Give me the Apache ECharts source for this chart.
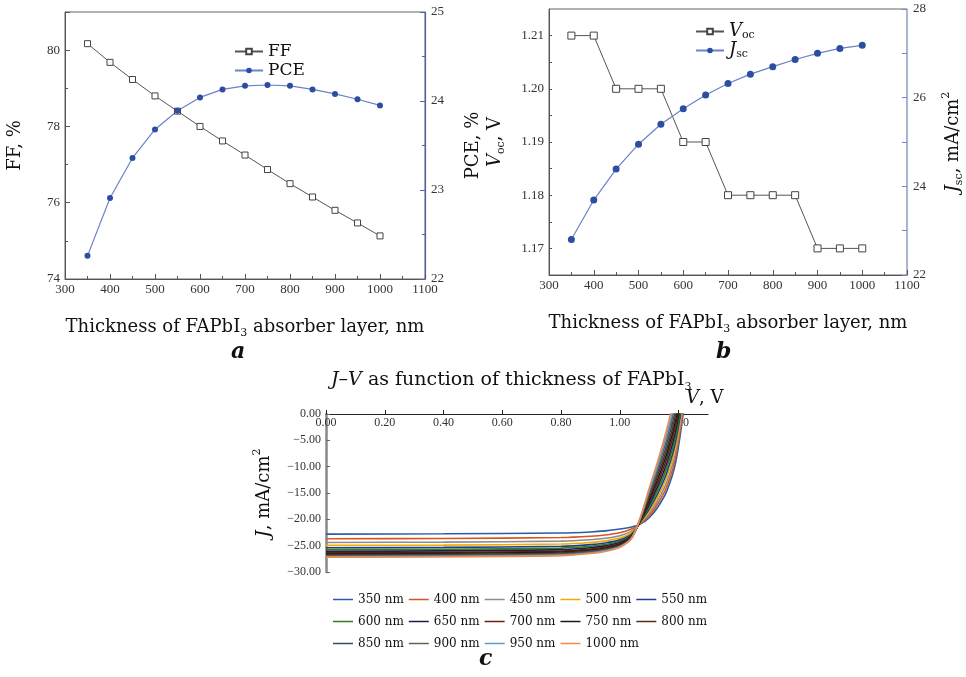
<!DOCTYPE html>
<html>
<head>
<meta charset="utf-8">
<script src="https://cdn.jsdelivr.net/npm/echarts@6/dist/echarts.min.js"></script>
<style>
  html, body { margin: 0; padding: 0; background: #fff; }
  #chart { width: 966px; height: 677px; }
</style>
</head>
<body>
<div id="chart"></div>
<script>
// thickness of the absorber layer, nm
const thickness = [350, 400, 450, 500, 550, 600, 650, 700, 750, 800, 850, 900, 950, 1000];
// panel a
const ffValues = [80.17, 79.68, 79.23, 78.80, 78.40, 78.00, 77.62, 77.25, 76.87, 76.50, 76.15, 75.80, 75.47, 75.13];
const pceValues = [22.26, 22.91, 23.36, 23.68, 23.89, 24.04, 24.13, 24.17, 24.18, 24.17, 24.13, 24.08, 24.02, 23.95];
// panel b
const vocValues = [1.21, 1.21, 1.20, 1.20, 1.20, 1.19, 1.19, 1.18, 1.18, 1.18, 1.18, 1.17, 1.17, 1.17];
const jscValues = [22.80, 23.69, 24.39, 24.95, 25.40, 25.75, 26.06, 26.32, 26.53, 26.70, 26.86, 27.00, 27.11, 27.18];
// panel c: J-V curves, one row per thickness
const jvVoltage = [0, 0.4, 0.8, 0.9, 0.95, 1.0, 1.04, 1.07, 1.10, 1.13, 1.16, 1.19, 1.22];
const jv350 = [-22.80, -22.75, -22.60, -22.40, -22.20, -21.85, -21.45, -20.90, -19.70, -17.60, -14.60, -9.20, 2.0];
const jv400 = [-23.69, -23.63, -23.46, -23.22, -22.98, -22.55, -21.85, -20.80, -19.30, -16.95, -13.75, -8.20, 2.7];
const jv450 = [-24.39, -24.33, -24.14, -23.87, -23.60, -23.10, -22.25, -20.70, -18.90, -16.30, -12.90, -7.20, 3.4];
const jv500 = [-24.95, -24.89, -24.69, -24.39, -24.09, -23.55, -22.55, -20.60, -18.50, -15.65, -12.00, -6.20, 4.1];
const jv550 = [-25.40, -25.33, -25.12, -24.80, -24.48, -23.90, -22.80, -20.50, -18.05, -15.00, -11.10, -5.20, 4.8];
const jv600 = [-25.75, -25.68, -25.46, -25.12, -24.78, -24.18, -23.00, -20.40, -17.60, -14.30, -10.20, -4.20, 5.5];
const jv650 = [-26.06, -25.99, -25.76, -25.40, -25.04, -24.40, -23.15, -20.30, -17.15, -13.60, -9.30, -3.20, 6.2];
const jv700 = [-26.32, -26.25, -26.00, -25.62, -25.25, -24.60, -23.25, -20.20, -16.70, -12.90, -8.40, -2.20, 6.8];
const jv750 = [-26.53, -26.46, -26.21, -25.83, -25.45, -24.78, -23.35, -20.10, -16.25, -12.20, -7.50, -1.20, 7.5];
const jv800 = [-26.70, -26.63, -26.38, -25.99, -25.60, -24.92, -23.42, -20.00, -15.80, -11.50, -6.60, -0.20, 8.2];
const jv850 = [-26.86, -26.79, -26.53, -26.13, -25.74, -25.05, -23.48, -19.90, -15.35, -10.80, -5.70, 0.80, 8.9];
const jv900 = [-27.00, -26.93, -26.66, -26.28, -25.88, -25.15, -23.52, -19.80, -14.90, -10.15, -4.70, 1.90, 9.6];
const jv950 = [-27.11, -27.04, -26.77, -26.38, -25.98, -25.22, -23.56, -19.70, -14.50, -9.50, -3.75, 2.95, 10.3];
const jv1000 = [-27.18, -27.10, -26.90, -26.50, -26.10, -25.30, -23.60, -19.60, -14.10, -8.80, -2.80, 4.00, 11.0];
const jvCurves = [jv350, jv400, jv450, jv500, jv550, jv600, jv650, jv700, jv750, jv800, jv850, jv900, jv950, jv1000];
const jvColors = ['#2a5ca8', '#d9541e', '#8c8c8c', '#f2a900', '#1f3d8c', '#2e7d1e', '#1a1f4a',
                  '#6b1f12', '#1a1a1a', '#5a2e12', '#3a4a66', '#5a6650', '#5b9bd5', '#ef8a4a'];

const SERIF = '"DejaVu Serif", serif';
const NUM = '"Liberation Serif", serif';

const rich = {
  i: { fontStyle: 'italic', fontSize: 18, fontFamily: SERIF, color: '#111' },
  sub: { fontSize: 11, lineHeight: 11, verticalAlign: 'bottom', fontFamily: SERIF, color: '#111' },
  sup: { fontSize: 11, lineHeight: 11, verticalAlign: 'top', fontFamily: SERIF, color: '#111' }
};
const titleRich = {
  i: { fontStyle: 'italic', fontSize: 19, fontFamily: SERIF, color: '#111' },
  sub: { fontSize: 11, lineHeight: 11, verticalAlign: 'bottom', fontFamily: SERIF, color: '#111' }
};
const nameStyle = { fontSize: 18, lineHeight: 24, color: '#111', fontFamily: SERIF, rich: rich };
const tickLabel = { fontFamily: NUM, fontSize: 13, color: '#333' };
const letterStyle = { fontSize: 22, fontStyle: 'italic', fontWeight: 'bold', color: '#111', fontFamily: SERIF };

function pairs(ys) {
  return thickness.map((t, k) => [t, ys[k]]);
}

// common thickness axis for panels a and b
function thicknessAxis(gridIndex) {
  return {
    type: 'value', gridIndex: gridIndex, min: 300, max: 1100, interval: 100,
    name: 'Thickness of FAPbI{sub|3} absorber layer, nm',
    nameLocation: 'middle', nameGap: 36, nameTextStyle: nameStyle,
    axisLine: { lineStyle: { color: '#555' } },
    axisTick: { inside: true, length: 5, lineStyle: { color: '#555' } },
    minorTick: { show: true, splitNumber: 2, length: 3, lineStyle: { color: '#555' } },
    axisLabel: Object.assign({ margin: 4, formatter: v => String(v) }, tickLabel),
    splitLine: { show: false }
  };
}

const jvSeries = jvCurves.map((curve, k) => ({
  name: thickness[k] + ' nm',
  type: 'line', xAxisIndex: 2, yAxisIndex: 4,
  data: jvVoltage.map((v, j) => [v, curve[j]]),
  showSymbol: false, symbol: 'none',
  smooth: 0.3,
  lineStyle: { width: 1.6, color: jvColors[k] },
  itemStyle: { color: jvColors[k] }
}));

const option = {
  animation: false,
  backgroundColor: '#fff',
  textStyle: { fontFamily: SERIF },
  title: [
    { text: '{i|J}–{i|V} as function of thickness of FAPbI{sub|3}', left: 326, top: 363,
      textStyle: { fontSize: 19, fontWeight: 'normal', lineHeight: 25, color: '#111', fontFamily: SERIF, rich: titleRich } },
    { text: 'a', left: 226, top: 336, textStyle: letterStyle },
    { text: 'b', left: 711, top: 336, textStyle: letterStyle },
    { text: 'c', left: 474, top: 643, textStyle: letterStyle }
  ],
  legend: [
    { data: ['FF', 'PCE'], orient: 'vertical', left: 229, top: 37, itemWidth: 28, itemHeight: 7, itemGap: 0,
      textStyle: { fontSize: 17, lineHeight: 19, color: '#111', fontFamily: SERIF } },
    { data: ['Voc', 'Jsc'], orient: 'vertical', left: 690, top: 17, itemWidth: 28, itemHeight: 7, itemGap: 0,
      formatter: n => n === 'Voc' ? '{i|V}{sub|oc}' : '{i|J}{sub|sc}',
      textStyle: { fontSize: 17, lineHeight: 19, color: '#111', fontFamily: SERIF, rich: rich } },
    { data: jvSeries.map(s => s.name), left: 328, top: 586, width: 400, icon: 'rect',
      itemWidth: 20, itemHeight: 1.5, itemGap: 5,
      textStyle: { fontSize: 12, lineHeight: 17, color: '#111', fontFamily: SERIF } }
  ],
  grid: [
    { left: 65, top: 12, width: 360, height: 267, show: true, borderColor: '#666', borderWidth: 1 },
    { left: 549, top: 9, width: 359, height: 266, show: true, borderColor: '#666', borderWidth: 1 },
    { left: 326, top: 414, width: 382, height: 158 }
  ],
  xAxis: [
    thicknessAxis(0),
    thicknessAxis(1),
    {
      type: 'value', gridIndex: 2, min: 0, max: 1.3, interval: 0.2, position: 'top',
      name: '{i|V}, V', nameLocation: 'end', nameGap: -22,
      nameTextStyle: Object.assign({}, nameStyle, { verticalAlign: 'bottom', align: 'left', padding: [0, 0, 4, 0] }),
      axisLine: { onZero: false, lineStyle: { color: '#222', width: 1.2 } },
      axisTick: { length: 4, lineStyle: { color: '#222' } },
      axisLabel: Object.assign({}, tickLabel, { inside: true, fontSize: 12, margin: 3, showMaxLabel: false,
        formatter: v => v.toFixed(2) }),
      splitLine: { show: false }
    }
  ],
  yAxis: [
    {
      type: 'value', gridIndex: 0, min: 74, max: 81, interval: 2, position: 'left',
      name: 'FF, %', nameLocation: 'middle', nameGap: 38, nameTextStyle: nameStyle,
      axisLine: { show: true, lineStyle: { color: '#555' } },
      axisTick: { show: true, inside: true, length: 5, lineStyle: { color: '#555' } },
      minorTick: { show: true, splitNumber: 2, length: 3, lineStyle: { color: '#555' } },
      axisLabel: Object.assign({ showMaxLabel: false, margin: 5 }, tickLabel),
      splitLine: { show: false }
    },
    {
      type: 'value', gridIndex: 0, min: 22, max: 25, interval: 1, position: 'right',
      name: 'PCE, %', nameLocation: 'middle', nameGap: 36, nameTextStyle: nameStyle,
      axisLine: { show: true, lineStyle: { color: '#4a63b0', width: 1.2 } },
      axisTick: { show: true, inside: true, length: 5, lineStyle: { color: '#4a63b0' } },
      minorTick: { show: true, splitNumber: 2, length: 3, lineStyle: { color: '#4a63b0' } },
      axisLabel: Object.assign({ margin: 6 }, tickLabel),
      splitLine: { show: false }
    },
    {
      type: 'value', gridIndex: 1, min: 1.165, max: 1.215, interval: 0.005, position: 'left',
      name: '{i|V}{sub|oc}, V', nameLocation: 'middle', nameGap: 42, nameTextStyle: nameStyle,
      axisLine: { show: true, lineStyle: { color: '#555' } },
      axisTick: { show: true, inside: true, length: 3, lineStyle: { color: '#555' } },
      axisLabel: Object.assign({ margin: 5, showMaxLabel: false, showMinLabel: false,
        formatter: v => Math.round(v * 1000) % 10 === 0 ? v.toFixed(2) : '' }, tickLabel),
      splitLine: { show: false }
    },
    {
      type: 'value', gridIndex: 1, min: 22, max: 28, interval: 2, position: 'right',
      name: '{i|J}{sub|sc}, mA/cm{sup|2}', nameLocation: 'middle', nameGap: 34, nameTextStyle: nameStyle,
      axisLine: { show: true, lineStyle: { color: '#aab8e8', width: 1.2 } },
      axisTick: { show: true, inside: true, length: 5, lineStyle: { color: '#6f86c8' } },
      minorTick: { show: true, splitNumber: 2, length: 5, lineStyle: { color: '#6f86c8' } },
      axisLabel: Object.assign({ margin: 6 }, tickLabel),
      splitLine: { show: false }
    },
    {
      type: 'value', gridIndex: 2, min: -30, max: 0, interval: 5,
      name: '{i|J}, mA/cm{sup|2}', nameLocation: 'middle', nameGap: 50, nameTextStyle: nameStyle,
      axisLine: { show: true, onZero: false, lineStyle: { color: '#888', width: 2.5 } },
      axisTick: { show: true, inside: true, length: 4, lineStyle: { color: '#666' } },
      axisLabel: Object.assign({}, tickLabel, { fontSize: 12, margin: 5,
        formatter: v => (v < 0 ? '−' : '') + Math.abs(v).toFixed(2) }),
      splitLine: { show: false }
    }
  ],
  series: [
    {
      name: 'FF', type: 'line', xAxisIndex: 0, yAxisIndex: 0, data: pairs(ffValues),
      symbol: 'rect', symbolSize: 6,
      itemStyle: { color: '#fff', borderColor: '#444', borderWidth: 1 },
      lineStyle: { color: '#555', width: 1 }
    },
    {
      name: 'PCE', type: 'line', xAxisIndex: 0, yAxisIndex: 1, data: pairs(pceValues),
      symbol: 'circle', symbolSize: 6,
      itemStyle: { color: '#2d4ea0' },
      lineStyle: { color: '#6a82c8', width: 1.2 }
    },
    {
      name: 'Voc', type: 'line', xAxisIndex: 1, yAxisIndex: 2, data: pairs(vocValues),
      symbol: 'rect', symbolSize: 7,
      itemStyle: { color: '#fff', borderColor: '#444', borderWidth: 1 },
      lineStyle: { color: '#555', width: 1 }
    },
    {
      name: 'Jsc', type: 'line', xAxisIndex: 1, yAxisIndex: 3, data: pairs(jscValues),
      symbol: 'circle', symbolSize: 7,
      itemStyle: { color: '#2d4ea0' },
      lineStyle: { color: '#6a82c8', width: 1.2 }
    }
  ].concat(jvSeries)
};

const chart = echarts.init(document.getElementById('chart'), null, { renderer: 'canvas' });
chart.setOption(option);
</script>
</body>
</html>
